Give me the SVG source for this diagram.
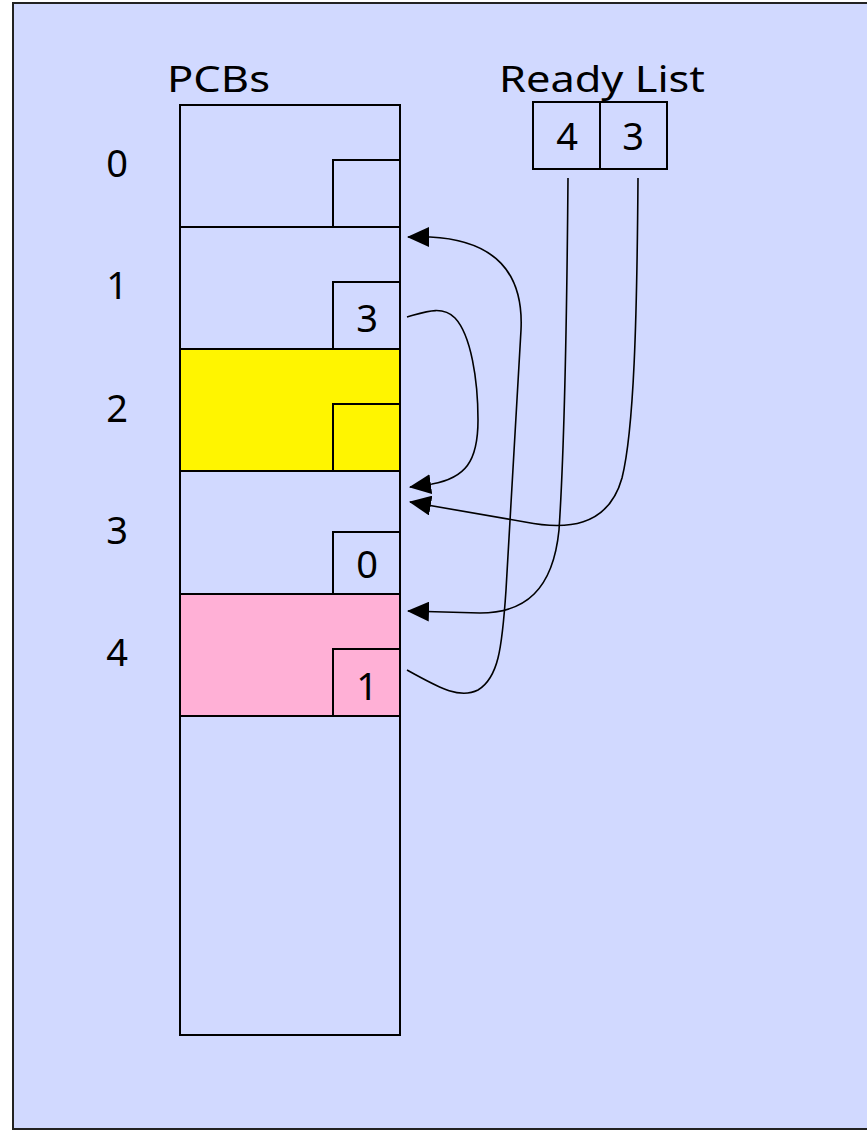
<svg xmlns="http://www.w3.org/2000/svg" width="867" height="1133" viewBox="0 0 867 1133">
<style>
.t{font-family:"Comic Sans MS","Noto Sans","DejaVu Sans",sans-serif;font-size:36px;fill:#000;}
.d{font-size:38px;}
.c{text-anchor:middle;}
.box{stroke:#000;stroke-width:2;}
.conn{fill:none;stroke:#000;stroke-width:1.6;}
</style>
<defs>
<marker id="ah" markerUnits="userSpaceOnUse" markerWidth="22" markerHeight="20" viewBox="0 0 22 20" refX="21" refY="10" orient="auto">
<path d="M0,0 L22,10 L0,20 Z" fill="#000"/>
</marker>
</defs>
<rect x="0" y="0" width="867" height="1133" fill="#fff"/>
<rect x="13" y="3" width="870" height="1126" fill="#d1d9ff" stroke="#222" stroke-width="2"/>
<text class="t" x="167" y="92" textLength="103" lengthAdjust="spacingAndGlyphs">PCBs</text>
<text class="t" x="499" y="92" textLength="206" lengthAdjust="spacingAndGlyphs">Ready List</text>
<g id="pcb-table">
<rect class="box" x="180" y="105" width="220" height="930" fill="#d1d9ff"/>
</g>
<g id="pcb0">
<rect class="box" x="180" y="105" width="220" height="122" fill="#d1d9ff"/>
<rect class="box" x="333" y="160" width="67" height="67" fill="#d1d9ff"/>
<text class="t d c" x="117" y="177">0</text>
</g>
<g id="pcb1">
<rect class="box" x="180" y="227" width="220" height="122" fill="#d1d9ff"/>
<rect class="box" x="333" y="282" width="67" height="67" fill="#d1d9ff"/>
<text class="t d c" x="367" y="332">3</text>
<text class="t d c" x="117" y="299">1</text>
</g>
<g id="pcb2">
<rect class="box" x="180" y="349" width="220" height="122" fill="#fff500"/>
<rect class="box" x="333" y="404" width="67" height="67" fill="#fff500"/>
<text class="t d c" x="117" y="422">2</text>
</g>
<g id="pcb3">
<rect class="box" x="180" y="471" width="220" height="123" fill="#d1d9ff"/>
<rect class="box" x="333" y="532" width="67" height="62" fill="#d1d9ff"/>
<text class="t d c" x="367" y="578">0</text>
<text class="t d c" x="117" y="544">3</text>
</g>
<g id="pcb4">
<rect class="box" x="180" y="594" width="220" height="122" fill="#ffb0d6"/>
<rect class="box" x="333" y="649" width="67" height="67" fill="#ffb0d6"/>
<text class="t d c" x="367" y="700">1</text>
<text class="t d c" x="117" y="666">4</text>
</g>
<g id="ready-list">
<rect class="box" x="533" y="102" width="67" height="67" fill="#d1d9ff"/>
<rect class="box" x="600" y="102" width="67" height="67" fill="#d1d9ff"/>
<text class="t d c" x="567" y="150">4</text>
<text class="t d c" x="633" y="150">3</text>
</g>
<g id="connectors">
<path class="conn" marker-end="url(#ah)" d="M568,178 C567,300 565,440 559,530 C553,590 525,613 480,613 L408,611"/>
<path class="conn" marker-end="url(#ah)" d="M638,178 C637,320 634,430 622,478 C608,528 565,530 525,522 L410,502"/>
<path class="conn" marker-end="url(#ah)" d="M407,317 C425,312 442,305 455,318 C471,335 478,380 478,420 C478,462 465,478 432,484 L410,487"/>
<path class="conn" marker-end="url(#ah)" d="M407,670 C435,685 458,700 478,690 C498,678 502,650 506,590 L521,330 C524,268 490,240 430,237 L408,237"/>
</g>
</svg>
